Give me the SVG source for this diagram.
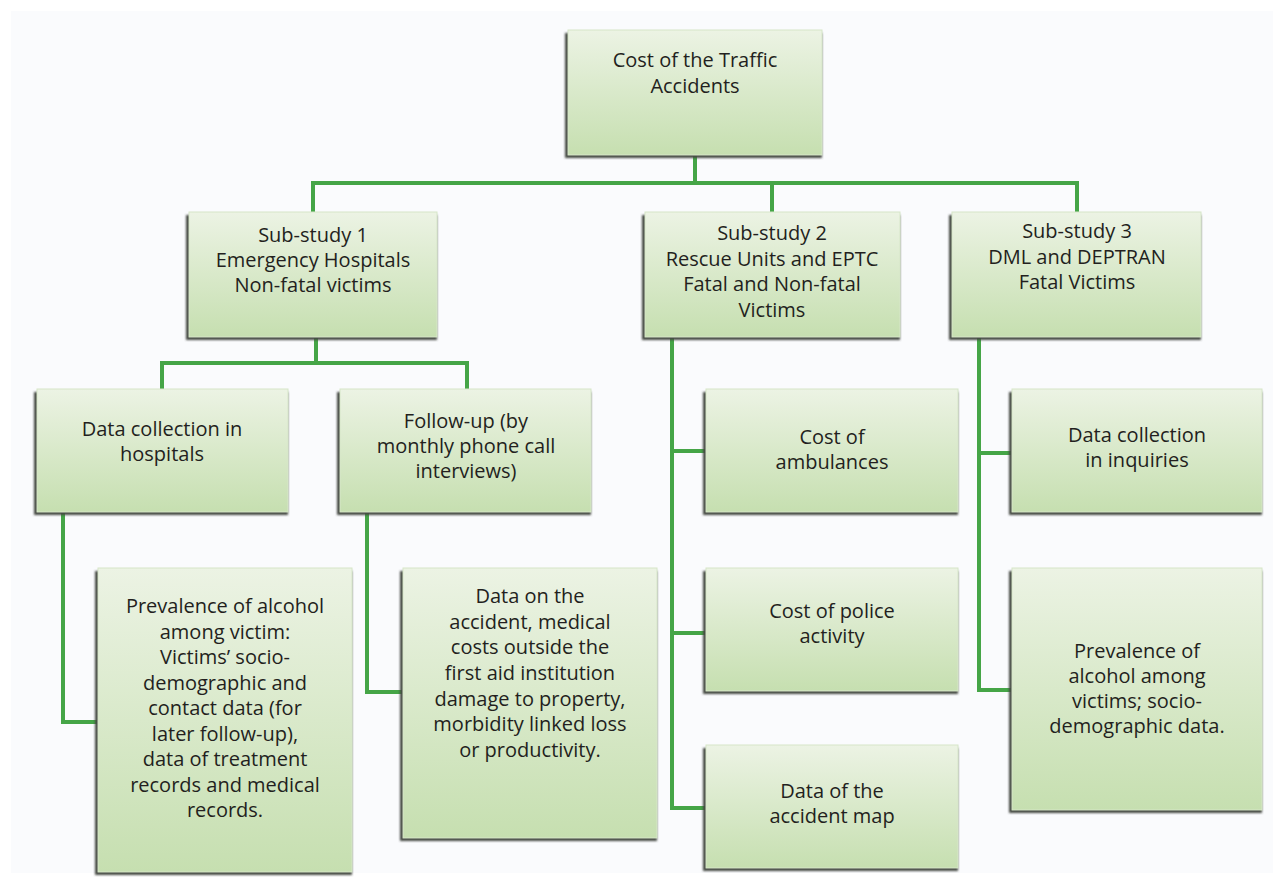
<svg xmlns="http://www.w3.org/2000/svg" width="1280" height="883" viewBox="0 0 1280 883">
  <defs>
    <linearGradient id="boxFill" x1="0" y1="0" x2="0" y2="1">
      <stop offset="0" stop-color="#ecf3e4"/>
      <stop offset="1" stop-color="#c6dfb0"/>
    </linearGradient>
    <filter id="soft" x="-10%" y="-10%" width="120%" height="120%">
      <feGaussianBlur stdDeviation="0.8"/>
    </filter>
  </defs>
  <style>
    .shadow { fill: #454843; filter: url(#soft); }
    .box { fill: url(#boxFill); stroke: #d6e6c8; stroke-width: 1; }
    .label { font-family: "Open Sans", "Noto Sans", "Liberation Sans", sans-serif; font-size: 20px; fill: #231f20; text-anchor: middle; }
    .link { fill: none; stroke: #45a547; stroke-width: 4; stroke-linejoin: miter; }
  </style>

  <rect x="0" y="0" width="1280" height="883" fill="#ffffff"/>
  <rect x="11" y="11" width="1262" height="862" fill="#fafbfd"/>

  <!-- connectors -->
  <g id="connectors">
    <path class="link" d="M695 155 V183"/>
    <path class="link" d="M313 212 V183 H1077 V212"/>
    <path class="link" d="M772 183 V212"/>
    <path class="link" d="M316 337 V363"/>
    <path class="link" d="M162 389 V363 H467 V389"/>
    <path class="link" d="M63 512 V722 H98"/>
    <path class="link" d="M367 512 V692 H403"/>
    <path class="link" d="M672 337 V808 H706"/>
    <path class="link" d="M672 451 H706"/>
    <path class="link" d="M672 633 H706"/>
    <path class="link" d="M979 337 V690 H1012"/>
    <path class="link" d="M979 453 H1012"/>
  </g>

  <g id="root">
    <rect class="shadow" x="565" y="33" width="257" height="125"/>
    <rect class="box" x="568" y="30" width="254" height="125"/>
    <text class="label" x="695" y="67">Cost of the Traffic</text>
    <text class="label" x="695" y="93">Accidents</text>
  </g>

  <g id="substudy1">
    <rect class="shadow" x="186" y="215" width="251" height="125"/>
    <rect class="box" x="189" y="212" width="248" height="125"/>
    <text class="label" x="313" y="242">Sub-study 1</text>
    <text class="label" x="313" y="267">Emergency Hospitals</text>
    <text class="label" x="313" y="292">Non-fatal victims</text>
  </g>

  <g id="substudy2">
    <rect class="shadow" x="642" y="215" width="258" height="125"/>
    <rect class="box" x="645" y="212" width="255" height="125"/>
    <text class="label" x="772" y="240">Sub-study 2</text>
    <text class="label" x="772" y="266">Rescue Units and EPTC</text>
    <text class="label" x="772" y="291">Fatal and Non-fatal</text>
    <text class="label" x="772" y="317">Victims</text>
  </g>

  <g id="substudy3">
    <rect class="shadow" x="949" y="215" width="252" height="125"/>
    <rect class="box" x="952" y="212" width="249" height="125"/>
    <text class="label" x="1077" y="238">Sub-study 3</text>
    <text class="label" x="1077" y="264">DML and DEPTRAN</text>
    <text class="label" x="1077" y="289">Fatal Victims</text>
  </g>

  <g id="hospital-data">
    <rect class="shadow" x="34" y="392" width="254" height="123"/>
    <rect class="box" x="37" y="389" width="251" height="123"/>
    <text class="label" x="162" y="436">Data collection in</text>
    <text class="label" x="162" y="461">hospitals</text>
  </g>

  <g id="follow-up">
    <rect class="shadow" x="337" y="392" width="254" height="123"/>
    <rect class="box" x="340" y="389" width="251" height="123"/>
    <text class="label" x="466" y="428">Follow-up (by</text>
    <text class="label" x="466" y="453">monthly phone call</text>
    <text class="label" x="466" y="478">interviews)</text>
  </g>

  <g id="alcohol-victim">
    <rect class="shadow" x="95" y="571" width="257" height="304"/>
    <rect class="box" x="98" y="568" width="254" height="304"/>
    <text class="label" x="225" y="613">Prevalence of alcohol</text>
    <text class="label" x="225" y="639">among victim:</text>
    <text class="label" x="225" y="664">Victims’ socio-</text>
    <text class="label" x="225" y="690">demographic and</text>
    <text class="label" x="225" y="715">contact data (for</text>
    <text class="label" x="225" y="741">later follow-up),</text>
    <text class="label" x="225" y="766">data of treatment</text>
    <text class="label" x="225" y="792">records and medical</text>
    <text class="label" x="225" y="817">records.</text>
  </g>

  <g id="accident-data">
    <rect class="shadow" x="400" y="571" width="257" height="270"/>
    <rect class="box" x="403" y="568" width="254" height="270"/>
    <text class="label" x="530" y="603">Data on the</text>
    <text class="label" x="530" y="629">accident, medical</text>
    <text class="label" x="530" y="654">costs outside the</text>
    <text class="label" x="530" y="680">first aid institution</text>
    <text class="label" x="530" y="706">damage to property,</text>
    <text class="label" x="530" y="731">morbidity linked loss</text>
    <text class="label" x="530" y="757">or productivity.</text>
  </g>

  <g id="ambulances">
    <rect class="shadow" x="703" y="392" width="255" height="123"/>
    <rect class="box" x="706" y="389" width="252" height="123"/>
    <text class="label" x="832" y="444">Cost of</text>
    <text class="label" x="832" y="469">ambulances</text>
  </g>

  <g id="police">
    <rect class="shadow" x="703" y="571" width="255" height="123"/>
    <rect class="box" x="706" y="568" width="252" height="123"/>
    <text class="label" x="832" y="618">Cost of police</text>
    <text class="label" x="832" y="643">activity</text>
  </g>

  <g id="accident-map">
    <rect class="shadow" x="703" y="748" width="255" height="123"/>
    <rect class="box" x="706" y="745" width="252" height="123"/>
    <text class="label" x="832" y="798">Data of the</text>
    <text class="label" x="832" y="823">accident map</text>
  </g>

  <g id="inquiries">
    <rect class="shadow" x="1009" y="392" width="253" height="123"/>
    <rect class="box" x="1012" y="389" width="250" height="123"/>
    <text class="label" x="1137" y="442">Data collection</text>
    <text class="label" x="1137" y="467">in inquiries</text>
  </g>

  <g id="alcohol-victims">
    <rect class="shadow" x="1009" y="571" width="253" height="242"/>
    <rect class="box" x="1012" y="568" width="250" height="242"/>
    <text class="label" x="1137" y="658">Prevalence of</text>
    <text class="label" x="1137" y="683">alcohol among</text>
    <text class="label" x="1137" y="708">victims; socio-</text>
    <text class="label" x="1137" y="733">demographic data.</text>
  </g>
</svg>
